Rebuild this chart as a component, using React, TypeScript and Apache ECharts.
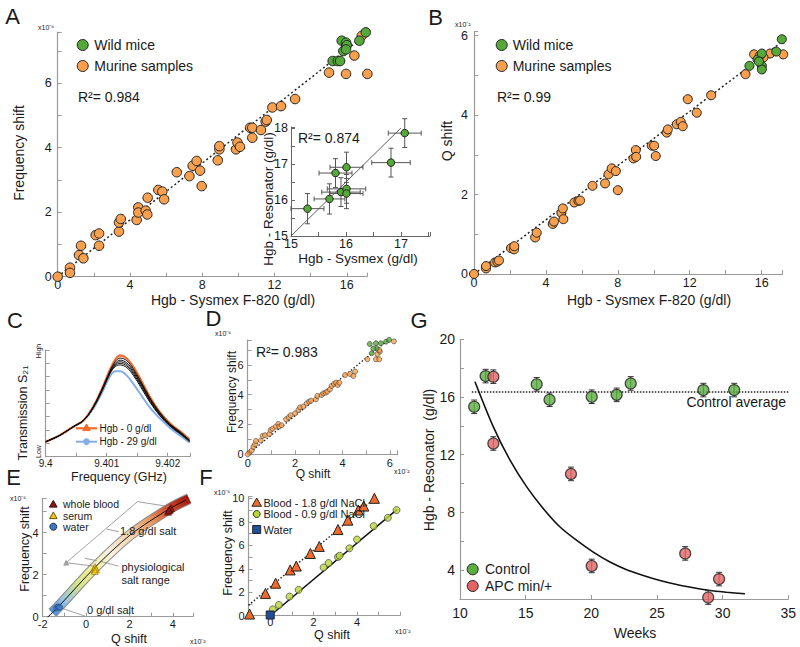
import React, { useEffect, useRef } from "react";
import * as echarts from "echarts";

const FONT = "'Liberation Sans', Arial, Helvetica, sans-serif";
const TXT = "#1a1a1a";
const AX = "#9a9a9a";
const ORANGE = "#f9a04f";
const GREEN = "#55a83a";

// ---- Panel A: Hgb (Sysmex) vs frequency shift (x1e-6)
const aMurine = [[0,0],[0.68,0.28],[0.68,0.12],[1.29,0.96],[1.18,0.67],[1.42,0.57],[2.1,1.29],[2.29,1.34],[2.29,0.96],[3.39,1.4],[3.39,1.68],[3.49,1.79],[4.37,1.76],[4.46,2.15],[4.46,1.99],[4.87,2.05],[4.96,1.93],[4.98,2.45],[5.57,2.69],[5.79,2.64],[5.89,2.4],[6.59,3.24],[7.29,3.12],[7.47,3.44],[7.69,3.59],[7.88,3.29],[7.97,2.81],[8.86,3.61],[8.95,3.95],[8.95,4.05],[9.87,3.95],[9.95,4.16],[10.09,4.03],[10.65,4.62],[10.77,4.62],[10.77,4.31],[11.25,4.55],[11.51,4.81],[11.57,4.86],[11.88,5.25],[12.36,5.29],[13.14,5.51],[15.02,6.33],[15.96,6.29],[16.42,6.86],[17.14,6.29],[16.83,7.47]];
const aWild = [[15.22,6.69],[15.5,6.69],[15.63,6.69],[15.72,7.32],[15.96,7.26],[16.0,7.18],[15.81,7.0],[15.96,7.05],[16.7,7.32],[17.05,7.58]];
const aFit = [[0,0],[16.9,7.44]];
// inset: [sysmex, resonator, xErr, yErr]
const insetPts = [[15.3,15.76,0.3,0.42],[15.7,16.03,0.28,0.42],[15.81,16.75,0.3,0.4],[16.01,16.91,0.3,0.42],[15.91,16.22,0.35,0.4],[16.01,16.31,0.35,0.4],[16.01,16.18,0.3,0.42],[16.82,17.04,0.35,0.4],[17.07,17.86,0.3,0.4]];
const insetFit = [[15,15],[17.0,18.0]];

// ---- Panel B: Hgb vs Q shift (x1e-2)
const bMurine = [[0,0],[0.67,0.14],[0.67,0.2],[1.17,0.29],[1.3,0.31],[1.39,0.34],[2.06,0.65],[2.23,0.62],[2.24,0.7],[3.4,0.92],[3.49,1.04],[4.38,1.26],[4.45,1.32],[4.86,1.54],[4.94,1.65],[4.97,1.38],[5.58,1.8],[5.81,1.84],[5.9,1.85],[6.59,2.22],[7.29,2.28],[7.48,2.51],[7.66,2.66],[7.89,2.59],[8.0,2.11],[8.87,2.91],[9.0,3.12],[9.02,2.95],[9.89,3.23],[10.02,3.23],[10.11,2.97],[10.72,3.56],[10.78,3.64],[11.28,3.77],[11.5,3.83],[11.61,3.72],[11.89,4.4],[12.39,4.06],[13.19,4.5],[15.1,5.03],[15.58,5.53],[16.47,5.55],[17.2,5.53],[16.1,5.45],[15.9,5.5]];
const bWild = [[15.32,5.24],[15.77,5.4],[16.01,5.55],[16.01,5.24],[16.01,5.15],[15.85,5.35],[16.81,5.6],[17.12,5.91]];
const bFit = [[0,0],[17.0,5.8]];

// ---- Panel C: transmission curves
const cFreq = [9.4,9.40023,9.40045,9.40062,9.40078,9.40094,9.40105,9.40114,9.40122,9.40133,9.40144,9.40155,9.40171,9.40187,9.40204,9.4022,9.40236];
const cOrange = [0.14,0.2,0.28,0.34,0.47,0.66,0.81,0.91,0.95,0.92,0.84,0.73,0.56,0.42,0.31,0.24,0.16];
const cBlue = [0.14,0.2,0.28,0.34,0.45,0.62,0.75,0.8,0.8,0.76,0.68,0.59,0.46,0.36,0.27,0.2,0.13];
const cBlack = [
  [0.14,0.2,0.28,0.34,0.47,0.655,0.8,0.89,0.925,0.9,0.82,0.715,0.55,0.415,0.305,0.235,0.155],
  [0.14,0.2,0.28,0.34,0.465,0.65,0.79,0.875,0.905,0.88,0.805,0.7,0.54,0.405,0.3,0.23,0.15],
  [0.14,0.2,0.28,0.34,0.46,0.645,0.785,0.865,0.89,0.865,0.79,0.69,0.53,0.4,0.295,0.225,0.148],
  [0.14,0.2,0.28,0.34,0.46,0.64,0.78,0.855,0.875,0.85,0.775,0.675,0.52,0.39,0.29,0.22,0.145],
  [0.14,0.2,0.28,0.34,0.46,0.635,0.775,0.845,0.86,0.835,0.76,0.66,0.51,0.385,0.285,0.215,0.142],
];
const cYLabels = ["Low", "High"];

// ---- Panel D: Q shift vs frequency shift
const dMurine = [[0.07,0.11],[0.17,0.25],[0.24,0.51],[0.31,0.67],[0.35,0.89],[0.55,0.92],[0.63,1.23],[0.73,1.28],[0.91,1.36],[0.97,1.63],[1.05,1.72],[1.19,1.86],[1.29,2.04],[1.33,1.86],[1.43,1.95],[1.62,2.35],[1.73,2.48],[1.81,2.62],[2.0,2.75],[2.14,2.98],[2.21,3.15],[2.35,3.2],[2.49,3.42],[2.59,3.53],[2.67,3.6],[2.88,3.69],[2.94,3.92],[3.12,3.98],[3.19,4.09],[3.29,4.14],[3.36,4.21],[3.47,4.36],[3.54,4.59],[3.64,4.72],[3.73,4.81],[3.8,4.65],[3.87,4.81],[4.11,5.32],[4.32,5.39],[4.46,5.26],[4.53,5.55],[5.05,6.38],[5.41,6.38],[5.55,6.38],[5.47,6.73],[5.58,6.89],[6.17,7.58],[5.55,7.0],[0,0]];
const dWild = [[5.15,7.4],[5.41,7.45],[5.62,7.45],[5.23,6.78],[5.44,7.11],[5.84,7.56],[5.97,7.68],[5.3,7.1]];
const dFit = [[0,0],[5.93,7.67]];

// ---- Panel E: salt dependence band
const eBand = [[-1.55,0.18],[-1.28,0.47],[0.41,2.35],[2.03,3.89],[3.87,5.16],[4.75,5.62]];
const eLine = [[-1.85,-0.1],[-1.28,0.47],[0.41,2.35],[2.03,3.89],[3.87,5.16],[4.6,5.55]];
const eWhole = [[3.78,5.0],[3.86,5.1],[3.92,5.18],[3.82,5.06]];
const eSerum = [[0.36,2.28],[0.42,2.36],[0.46,2.26],[0.4,2.18]];
const eWater = [[-1.36,0.42],[-1.28,0.47],[-1.22,0.44]];
const eAnnot = [
  [[-0.92,2.57],[2.37,5.48]],[[2.37,5.48],[3.87,5.24]],[[-0.92,2.57],[0.34,2.41]],
  [[0.96,4.17],[1.5,4.05]],[[-0.05,2.78],[0.49,2.67]],[[0.64,2.64],[1.49,2.41]],
  [[-1.12,0.4],[-0.05,0.03]],
];

// ---- Panel F: NaCl
const fHigh = [[-0.95,0.14],[-0.22,1.9],[0.25,2.77],[0.92,3.9],[1.2,4.23],[1.85,5.3],[2.26,5.9],[3.12,7.34],[3.58,8.14],[4.06,9.0],[4.31,9.34],[4.8,10.0]];
const fNormal = [[0.12,0.54],[0.4,0.91],[0.89,1.63],[1.31,2.2],[2.46,4.11],[2.69,4.49],[3.12,5.0],[3.2,5.11],[3.65,5.74],[4.0,6.49],[4.77,7.63],[5.42,8.34],[5.82,9.0]];
const fWater = [[0,0.06]];
const fHighFit = [[-1,0.88],[4.85,10.05]];
const fNormalFit = [[0,0],[5.85,9.06]];

// ---- Panel G: weeks vs Hgb
const gControl = [[11.08,15.32],[11.95,17.45],[15.84,16.88],[16.82,15.81],[20.03,16.02],[21.93,16.15],[23.0,16.94],[28.53,16.48],[30.88,16.48]];
const gApc = [[12.54,17.41],[12.54,12.78],[18.45,10.67],[20.03,4.29],[27.15,5.16],[29.73,3.38],[28.9,2.1]];
const gErr = 0.47;
const gAvg = [[10.9,16.35],[35,16.35]];
const gFit = [[11.14,17.06],[12.54,13.93],[13.81,11.62],[15.08,9.77],[16.35,8.26],[17.62,6.99],[18.89,6.06],[20.15,5.25],[21.42,4.56],[22.69,4.03],[23.96,3.63],[25.23,3.28],[26.5,3.0],[27.77,2.78],[29.04,2.59],[30.31,2.47],[31.7,2.36]];

function axis(gi: number, min: number, max: number, interval: number, every: number, fs: number, margin = 5, extra: any = {}) {
  const formatter = (v: number) => {
    const k = Math.round(v / every);
    return Math.abs(v - k * every) < 1e-6 ? String(+(k * every).toFixed(4)) : "";
  };
  return {
    gridIndex: gi, type: "value", min, max, interval,
    axisLine: { show: true, onZero: false, lineStyle: { color: AX, width: 1.2 } },
    axisTick: { show: true, inside: true, length: 4, lineStyle: { color: AX } },
    axisLabel: { fontSize: fs, color: TXT, fontFamily: FONT, margin, formatter, interval: 0 },
    splitLine: { show: false },
    ...extra,
  };
}

function sc(i: number, data: any, color: string, size: number, symbol = "circle", extra: any = {}) {
  return { type: "scatter", xAxisIndex: i, yAxisIndex: i, data, symbol, symbolSize: size, clip: false, z: 4,
    itemStyle: { color, borderColor: "#222", borderWidth: 1, opacity: 1 }, ...extra };
}
function ln(i: number, data: any, color: any, width: number, type: any = "solid", extra: any = {}) {
  return { type: "line", xAxisIndex: i, yAxisIndex: i, data, symbol: "none", z: 2,
    lineStyle: { color, width, type }, ...extra };
}
function errSeries(i: number, data: any, withX: boolean, color: string, cap: number) {
  return {
    type: "custom", xAxisIndex: i, yAxisIndex: i, data, z: 3, encode: { x: 0, y: 1 },
    renderItem: (_p: any, api: any) => {
      const x = api.value(0), y = api.value(1);
      const ye = withX ? api.value(3) : api.value(2);
      const style = { stroke: color, lineWidth: 1 };
      const t = api.coord([x, y + ye]), b = api.coord([x, y - ye]);
      const ch: any[] = [
        { type: "line", shape: { x1: t[0], y1: t[1], x2: b[0], y2: b[1] }, style },
        { type: "line", shape: { x1: t[0] - cap, y1: t[1], x2: t[0] + cap, y2: t[1] }, style },
        { type: "line", shape: { x1: b[0] - cap, y1: b[1], x2: b[0] + cap, y2: b[1] }, style },
      ];
      if (withX) {
        const xe = api.value(2);
        const l = api.coord([x - xe, y]), r = api.coord([x + xe, y]);
        ch.push(
          { type: "line", shape: { x1: l[0], y1: l[1], x2: r[0], y2: r[1] }, style },
          { type: "line", shape: { x1: l[0], y1: l[1] - cap, x2: l[0], y2: l[1] + cap }, style },
          { type: "line", shape: { x1: r[0], y1: r[1] - cap, x2: r[0], y2: r[1] + cap }, style },
        );
      }
      return { type: "group", children: ch };
    },
  };
}

function txt(text: string, x: number, y: number, fs: number, align = "left", rot = 0, extra: any = {}) {
  return { type: "text", x, y, rotation: rot, z: 100,
    style: { text, fontSize: fs, fontFamily: FONT, fill: TXT, align, verticalAlign: "middle",
      textAlign: align, textVerticalAlign: "middle", ...extra } };
}
function circ(cx: number, cy: number, r: number, fill: string, stroke = "#222") {
  return { type: "circle", z: 100, shape: { cx, cy, r }, style: { fill, stroke, lineWidth: 1 } };
}
function tri(x: number, y: number, s: number, fill: string, stroke = "#222") {
  return { type: "polygon", z: 100, shape: { points: [[x, y - s], [x - s * 0.95, y + s * 0.65], [x + s * 0.95, y + s * 0.65]] },
    style: { fill, stroke, lineWidth: 1 } };
}

const PI2 = Math.PI / 2;

export default function App() {
  const ref = useRef<HTMLDivElement>(null);
  useEffect(() => {
    document.body.style.margin = "0";
    if (!ref.current) return;
    const chart = echarts.init(ref.current, undefined, { renderer: "svg" });

    const grids = [
      { left: 57.7, top: 32, width: 309.3, height: 244.7 },
      { left: 291, top: 127, width: 139, height: 109 },
      { left: 474, top: 31.7, width: 308.7, height: 242.3 },
      { left: 45.7, top: 350, width: 144.3, height: 106.7 },
      { left: 247.7, top: 340, width: 150, height: 114.3 },
      { left: 42.7, top: 498.3, width: 150.3, height: 118.4 },
      { left: 248.5, top: 496.7, width: 151.5, height: 119 },
      { left: 460, top: 339.3, width: 328.3, height: 259.7 },
    ];

    const cxFmt = (v: number) => {
      const k = Math.round((v - 9.4) / 0.0005);
      if (Math.abs(v - (9.4 + k * 0.0005)) > 1e-7 || k % 2 !== 0) return "";
      return String(+(9.4 + k * 0.0005).toFixed(3));
    };
    const insetAx = { axisLine: { show: true, onZero: false, lineStyle: { color: "#666", width: 1 } }, axisTick: { show: true, inside: true, length: 4, lineStyle: { color: "#666" } } };

    const xAxis = [
      axis(0, 0, 17.12, 2, 4, 12.5, 2),
      axis(1, 15, 17.53, 0.5, 1, 12.5, 1, insetAx),
      axis(2, 0, 17.17, 2, 4, 12.5, 2),
      { ...axis(3, 9.4, 9.402366, 0.0005, 1, 10, 2), axisLabel: { fontSize: 10, color: TXT, fontFamily: FONT, margin: 2, formatter: cxFmt, interval: 0 } },
      axis(4, 0, 6.33, 1, 2, 11, 3),
      axis(5, -2, 4.93, 1, 2, 11, 2),
      axis(6, -1, 5.98, 1, 2, 11, 1),
      axis(7, 10, 35, 5, 5, 14, 7),
    ];
    const yAxis = [
      axis(0, 0, 7.59, 1, 2, 12.5, 6),
      axis(1, 15, 18.03, 0.5, 1, 12.5, 3, insetAx),
      axis(2, 0, 6.1, 1, 2, 12.5, 6),
      { ...axis(3, 0, 1, 0.125, 1, 7, 3), axisLabel: { show: false } },
      axis(4, 0, 7.67, 1, 2, 11, 4),
      axis(5, 0, 5.64, 1, 2, 11, 4),
      axis(6, 0, 10.14, 1, 2, 11, 4),
      axis(7, 2, 20, 2, 4, 14, 5),
    ];

    const zip = (ys: number[]) => cFreq.map((f, i) => [f, ys[i]]);
    const bandGrad = {
      type: "linear", x: 0, y: 1, x2: 1, y2: 0,
      colorStops: [
        { offset: 0, color: "#4f8fd6" }, { offset: 0.1, color: "#9cc5e0" }, { offset: 0.22, color: "#d7e38a" },
        { offset: 0.33, color: "#f1ee9c" }, { offset: 0.47, color: "#f8f1e2" }, { offset: 0.62, color: "#f3d3b0" },
        { offset: 0.76, color: "#e59a62" }, { offset: 0.88, color: "#cf4a2c" }, { offset: 1, color: "#a3150f" },
      ],
    };

    const series: any[] = [
      // A
      ln(0, aFit, "#222", 1.5, [2, 2.5]),
      sc(0, aMurine, ORANGE, 9.5),
      sc(0, aWild, GREEN, 9.5),
      // inset
      ln(1, insetFit, "#333", 0.8),
      errSeries(1, insetPts, true, "#555", 2.5),
      sc(1, insetPts.map((p) => [p[0], p[1]]), GREEN, 7.5),
      // B
      ln(2, bFit, "#222", 1.5, [2, 2.5]),
      sc(2, bMurine, ORANGE, 9),
      sc(2, bWild, GREEN, 9),
      // C
      ...cBlack.map((ys) => ln(3, zip(ys), "#111", 1, "solid", { smooth: 0.35, z: 3 })),
      ln(3, zip(cBlue), "#86aee6", 2, "solid", { smooth: 0.35, z: 2 }),
      ln(3, zip(cOrange), "#f26b2a", 2.2, "solid", { smooth: 0.35, z: 2 }),
      // D
      ln(4, dFit, "#222", 1.3, [1.5, 2]),
      sc(4, dMurine, ORANGE, 5, "circle", { itemStyle: { color: ORANGE, borderColor: "#333", borderWidth: 0.7 } }),
      sc(4, dWild, GREEN, 5, "circle", { itemStyle: { color: GREEN, borderColor: "#333", borderWidth: 0.7 } }),
      // E
      ln(5, eBand, "#8a8a8a", 11, "solid", { smooth: 0.3, z: 1, clip: false }),
      ln(5, eBand, bandGrad, 9, "solid", { smooth: 0.3, z: 2, clip: false }),
      ln(5, eLine, "#111", 1, "solid", { smooth: 0.3, z: 3 }),
      {
        type: "lines", coordinateSystem: "cartesian2d", xAxisIndex: 5, yAxisIndex: 5, z: 3, silent: true,
        data: eAnnot.map((c) => ({ coords: c })), lineStyle: { color: "#888", width: 0.8, opacity: 1 },
      },
      sc(5, [[-0.92, 2.57]], "#888", 5, "triangle", { itemStyle: { color: "#999", borderColor: "#666", borderWidth: 0.5 } }),
      sc(5, eWater, "#3b78c8", 6, "circle", { itemStyle: { color: "#3b78c8", borderColor: "#234", borderWidth: 0.6 } }),
      sc(5, eSerum, "#f2c41a", 7, "triangle", { itemStyle: { color: "#f2c41a", borderColor: "#6a5500", borderWidth: 0.6 } }),
      sc(5, eWhole, "#8b1a1a", 7, "triangle", { itemStyle: { color: "#8b1a1a", borderColor: "#300", borderWidth: 0.6 } }),
      // F
      ln(6, fHighFit, "#222", 1.4, [1.5, 2]),
      ln(6, fNormalFit, "#111", 1.5),
      sc(6, fHigh, "#f26b2a", 10, "triangle"),
      sc(6, fNormal, "#b8d43a", 7, "circle", { itemStyle: { color: "#b8d43a", borderColor: "#333", borderWidth: 0.8 } }),
      sc(6, fWater, "#1e4f9a", 8, "rect"),
      // G
      ln(7, gAvg, "#222", 1.5, [1.5, 1.5]),
      ln(7, gFit, "#111", 1.6, "solid", { smooth: 0.3 }),
      errSeries(7, gControl.map((p) => [p[0], p[1], gErr]), false, "#333", 3),
      errSeries(7, gApc.map((p) => [p[0], p[1], gErr]), false, "#333", 3),
      sc(7, gControl, "#5aae3e", 11, "circle", { itemStyle: { color: "#5aae3e", borderColor: "#222", borderWidth: 1.2 } }),
      sc(7, gApc, "#e26464", 11, "circle", { itemStyle: { color: "#e26464", borderColor: "#222", borderWidth: 1.2 } }),
    ];

    const graphic: any[] = [
      // panel letters
      txt("A", 12.5, 16.5, 22, "center"), txt("B", 435.5, 17.5, 22, "center"), txt("C", 15, 320, 22, "center"),
      txt("D", 213.5, 318.5, 22, "center"), txt("E", 13.5, 477.5, 22, "center"), txt("F", 206, 477.5, 22, "center"),
      txt("G", 419, 320, 22, "center"),
      // A
      txt("Frequency shift", 19, 153, 14, "center", PI2),
      txt("Hgb - Sysmex F-820 (g/dl)", 233, 299.5, 14, "center"),
      txt("x10⁻⁶", 38, 27, 7),
      circ(82.7, 45, 5.5, GREEN), txt("Wild mice", 94.3, 45, 14),
      circ(82.7, 66, 5.5, ORANGE), txt("Murine samples", 94.3, 66, 14),
      txt("R²= 0.984", 78, 97, 14),
      // inset
      txt("R²= 0.874", 298, 138, 14),
      txt("Hgb - Sysmex (g/dl)", 358, 258, 13.5, "center"),
      txt("Hgb - Resonator (g/dl)", 268, 199, 13.5, "center", PI2),
      // B
      txt("Q shift", 447, 141, 14, "center", PI2),
      txt("Hgb - Sysmex F-820 (g/dl)", 649, 299.5, 14, "center"),
      txt("x10⁻²", 455, 24, 7),
      circ(501.7, 45, 5.5, GREEN), txt("Wild mice", 512.7, 45, 14),
      circ(501.7, 66, 5.5, ORANGE), txt("Murine samples", 512.7, 66, 14),
      txt("R²= 0.99", 497, 97, 14),
      // C
      txt("Transmission S₂₁", 22.5, 413, 12.5, "center", PI2),
      txt("Frequency (GHz)", 119, 477, 12.5, "center"),
      txt(cYLabels[1], 38.5, 351, 7, "center", PI2),
      txt(cYLabels[0], 38.5, 451.5, 7, "center", PI2),
      { type: "line", z: 100, shape: { x1: 76, y1: 428.3, x2: 97, y2: 428.3 }, style: { stroke: "#f26b2a", lineWidth: 2.2 } },
      tri(86.5, 428, 4, "#f26b2a", "#f26b2a"),
      txt("Hgb - 0 g/dl", 99.5, 428.3, 10),
      { type: "line", z: 100, shape: { x1: 76, y1: 441.7, x2: 97, y2: 441.7 }, style: { stroke: "#86aee6", lineWidth: 2 } },
      circ(86.5, 441.7, 3, "#86aee6", "#86aee6"),
      txt("Hgb - 29 g/dl", 99.5, 441.7, 10),
      // D
      txt("Frequency shift", 232, 392, 12, "center", PI2),
      txt("Q shift", 313, 474, 12, "center"),
      txt("x10⁻⁶", 215, 333, 7),
      txt("x10⁻²", 394, 471, 7),
      txt("R²= 0.983", 256, 352, 14),
      // E
      txt("Frequency shift", 25, 549, 12.5, "center", PI2),
      txt("Q shift", 129, 638.5, 12.5, "center"),
      txt("x10⁻⁶", 10, 498, 7),
      txt("x10⁻²", 190, 641, 7),
      tri(53.3, 504.5, 4, "#8b1a1a", "#300"), txt("whole blood", 63, 504, 10.5),
      tri(53.3, 516, 4, "#f2c41a", "#6a5500"), txt("serum", 63, 515.5, 10.5),
      circ(53.3, 526.7, 3.5, "#3b78c8", "#234"), txt("water", 63, 526.7, 10.5),
      txt("1.8 g/dl salt", 120, 531, 11),
      txt("physiological", 121.5, 567.3, 11),
      txt("salt range", 121.5, 580, 11),
      txt("0 g/dl salt", 87, 609.5, 11),
      // F
      txt("Frequency shift", 228, 553, 12.5, "center", PI2),
      txt("Q shift", 332, 634.5, 12.5, "center"),
      txt("x10⁻⁶", 214, 492, 7),
      txt("x10⁻²", 395, 631, 7),
      tri(256.7, 503, 5, "#f26b2a"), txt("Blood - 1.8 g/dl NaCl", 263.5, 502.5, 11),
      circ(256.7, 514, 3.5, "#b8d43a", "#333"), txt("Blood - 0.9 g/dl NaCl", 263.5, 514, 11),
      { type: "rect", z: 100, shape: { x: 252.7, y: 525.5, width: 8, height: 8 }, style: { fill: "#1e4f9a", stroke: "#222", lineWidth: 1 } },
      txt("Water", 263.5, 529.5, 11),
      // G
      txt("Hgb - Resonator  (g/dl)", 429, 460, 14, "center", PI2),
      txt("Weeks", 635, 633, 14, "center"),
      txt("Control average", 786, 402, 14, "right"),
      circ(472.7, 569.3, 5.5, "#5aae3e"), txt("Control", 485, 569.3, 14),
      circ(472.7, 586, 5.5, "#e26464"), txt("APC min/+", 485, 586, 14),
    ];

    chart.setOption({
      animation: false,
      backgroundColor: "#fff",
      textStyle: { fontFamily: FONT },
      grid: grids.map((g) => ({ ...g, containLabel: false })),
      xAxis, yAxis, series, graphic,
    });
    return () => chart.dispose();
  }, []);
  return <div ref={ref} style={{ width: 800, height: 647 }} />;
}
